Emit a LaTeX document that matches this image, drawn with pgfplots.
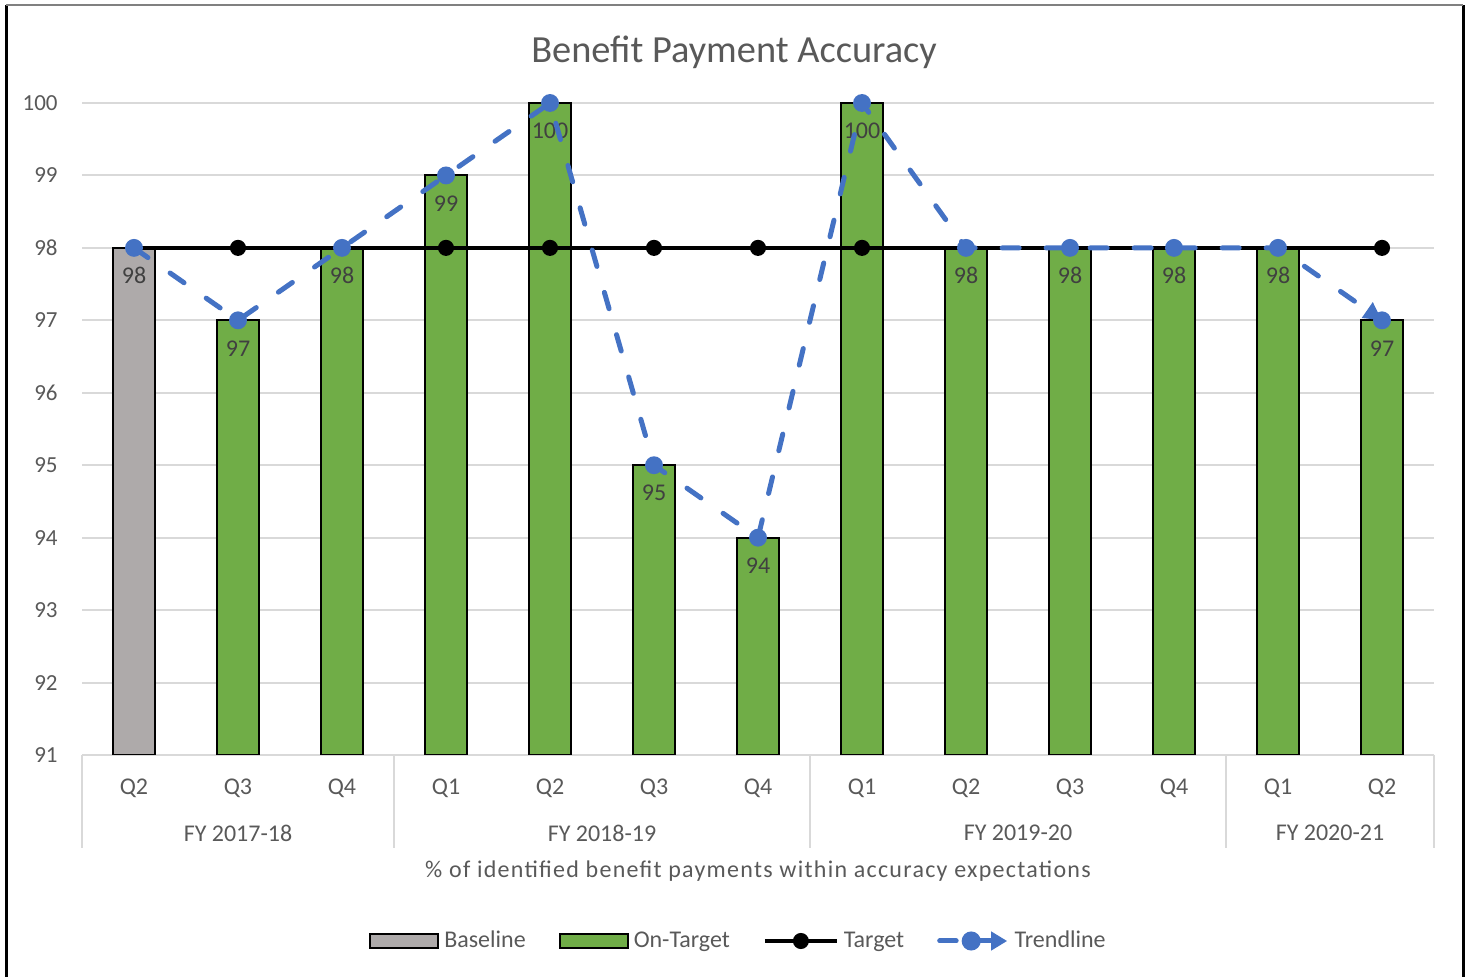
\documentclass[border=0pt]{standalone}
\usepackage{pgfplots}
\pgfplotsset{compat=1.18}
\usepackage{fontspec}
\setmainfont{Carlito}
\usetikzlibrary{arrows.meta}
\definecolor{txt}{HTML}{595959}
\definecolor{lbl}{HTML}{404040}
\definecolor{gridc}{HTML}{D9D9D9}
\definecolor{basec}{HTML}{AEAAAA}
\definecolor{greenc}{HTML}{70AD47}
\definecolor{bluec}{HTML}{4472C4}
\begin{document}
\begin{tikzpicture}
\useasboundingbox (0,0) rectangle (736pt,488.5pt);
\draw[black, line width=1.5pt] (3pt,0) -- (3pt,486pt);
\draw[black, line width=1.5pt] (731.5pt,0) -- (731.5pt,486pt);
\draw[gray, line width=0.8pt] (3pt,486pt) -- (731.5pt,486pt);
\node[font=\fontsize{19.2}{23}\selectfont, text=txt] at (367pt,462.5pt) {Benefit Payment Accuracy};
\begin{axis}[
 at={(41pt,111pt)}, anchor=south west,
 scale only axis, width=676pt, height=326pt,
 xmin=-0.5, xmax=12.5, ymin=91, ymax=100,
 ytick={91,...,100},
 xtick={0,...,12},
 xticklabels={Q2,Q3,Q4,Q1,Q2,Q3,Q4,Q1,Q2,Q3,Q4,Q1,Q2},
 ymajorgrids, grid style={gridc, line width=1pt},
 axis x line*=bottom, axis y line*=left,
 y axis line style={draw=none},
 x axis line style={gridc, line width=1pt},
 tick style={draw=none},
 /pgf/number format/assume math mode=true,
 clip mode=individual,
 xticklabel style={anchor=center, yshift=-16.5pt, font=\fontsize{12}{14}\selectfont, text=txt, inner sep=0pt},
 yticklabel style={anchor=east, xshift=-12pt, font=\fontsize{11.5}{14}\selectfont, text=txt, inner sep=0pt},
 legend style={at={(0.5,-0.2853)}, anchor=center, xshift=-9pt, draw=none, fill=none,
   font=\fontsize{12}{14}\selectfont, text=txt, nodes={inner sep=2.5pt},
   /tikz/every even column/.append style={column sep=14pt}},
 legend columns=4,
]
\addplot[ybar, bar width=0.4, bar shift=0pt, fill=basec, draw=black, line width=1pt,
  nodes near coords, every node near coord/.append style={anchor=center, yshift=-14pt, font=\fontsize{12}{14}\selectfont, text=lbl},
  legend image code/.code={\draw[fill=basec, draw=black, line width=1pt] (0pt,-3.5pt) rectangle (34pt,3.5pt);}]
  coordinates {(0,98)};
\addlegendentry{Baseline}
\addplot[ybar, bar width=0.4, bar shift=0pt, fill=greenc, draw=black, line width=1pt,
  nodes near coords, every node near coord/.append style={anchor=center, yshift=-14pt, font=\fontsize{12}{14}\selectfont, text=lbl},
  legend image code/.code={\draw[fill=greenc, draw=black, line width=1pt] (0pt,-3.5pt) rectangle (34pt,3.5pt);}]
  coordinates {(1,97) (2,98) (3,99) (4,100) (5,95) (6,94) (7,100) (8,98) (9,98) (10,98) (11,98) (12,97)};
\addlegendentry{On-Target}
\addplot[black, line width=2pt, mark=*, mark size=3pt,
  legend image code/.code={\draw[black, line width=2pt] (0pt,0pt) -- (36pt,0pt); \fill[black] (18pt,0pt) circle (3pt);}]
  coordinates {(0,98) (1,98) (2,98) (3,98) (4,98) (5,98) (6,98) (7,98) (8,98) (9,98) (10,98) (11,98) (12,98)};
\addlegendentry{Target}
\addplot[bluec, line width=2.5pt, dash pattern=on 8.5pt off 13.5pt, line cap=round, mark=*, mark size=3.2pt,
  mark options={solid}, -{Triangle[length=9pt,width=9pt]},
  legend image code/.code={\draw[-, solid, bluec, line width=2.5pt, line cap=round] (1.25pt,0pt) -- (9.5pt,0pt);
     \fill[-, solid, bluec] (17pt,0pt) circle (3.5pt);
     \draw[solid, bluec, line width=2.5pt, line cap=butt, -{Triangle[length=8pt,width=9pt]}] (20pt,0pt) -- (35pt,0pt);}]
  coordinates {(0,98) (1,97) (2,98) (3,99) (4,100) (5,95) (6,94) (7,100) (8,98) (9,98) (10,98) (11,98) (12,97)};
\addlegendentry{Trendline}
\draw[gridc, line width=1pt] (axis cs:-0.5,91) -- ([yshift=-46.5pt]axis cs:-0.5,91);
\draw[gridc, line width=1pt] (axis cs:2.5,91) -- ([yshift=-46.5pt]axis cs:2.5,91);
\draw[gridc, line width=1pt] (axis cs:6.5,91) -- ([yshift=-46.5pt]axis cs:6.5,91);
\draw[gridc, line width=1pt] (axis cs:10.5,91) -- ([yshift=-46.5pt]axis cs:10.5,91);
\draw[gridc, line width=1pt] (axis cs:12.5,91) -- ([yshift=-46.5pt]axis cs:12.5,91);
\node[font=\fontsize{12}{14}\selectfont, text=txt] at (axis cs:1,91) [yshift=-39pt] {FY 2017-18};
\node[font=\fontsize{12}{14}\selectfont, text=txt] at (axis cs:4.5,91) [yshift=-39pt] {FY 2018-19};
\node[font=\fontsize{12}{14}\selectfont, text=txt] at (axis cs:8.5,91) [yshift=-39pt] {FY 2019-20};
\node[font=\fontsize{12}{14}\selectfont, text=txt] at (axis cs:11.5,91) [yshift=-39pt] {FY 2020-21};
\node[font=\fontsize{12}{14}\selectfont\addfontfeatures{LetterSpace=5.3}, text=txt] at (axis cs:6,91) [yshift=-58pt] {\% of identified benefit payments within accuracy expectations};
\end{axis}
\end{tikzpicture}
\end{document}
